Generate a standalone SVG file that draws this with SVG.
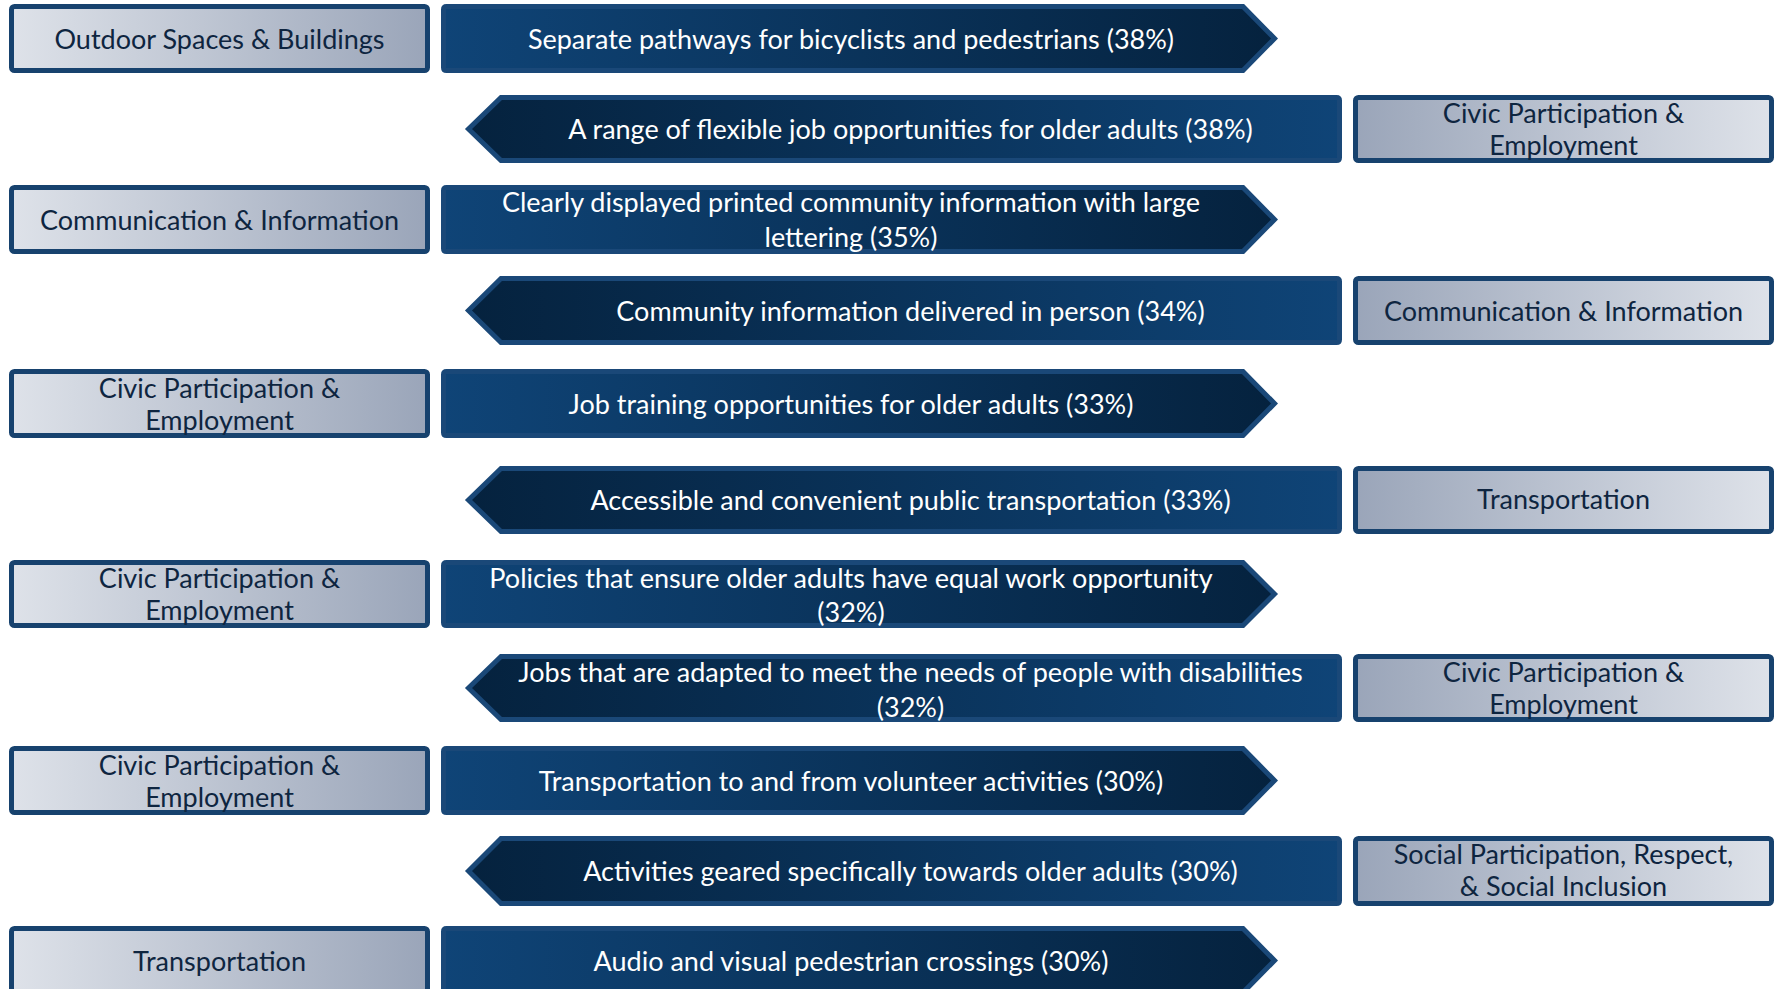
<svg xmlns="http://www.w3.org/2000/svg" width="1779" height="989" viewBox="0 0 1779 989">
<defs>
<linearGradient id="gL" x1="0" y1="0" x2="1" y2="0"><stop offset="0" stop-color="#dee2e9"/><stop offset="1" stop-color="#9aa5b9"/></linearGradient>
<linearGradient id="gR" x1="0" y1="0" x2="1" y2="0"><stop offset="0" stop-color="#9aa5b9"/><stop offset="1" stop-color="#dee2e9"/></linearGradient>
<linearGradient id="aR" x1="0" y1="0" x2="1" y2="0"><stop offset="0" stop-color="#0f4477"/><stop offset="1" stop-color="#05223e"/></linearGradient>
<linearGradient id="aL" x1="0" y1="0" x2="1" y2="0"><stop offset="0" stop-color="#05223e"/><stop offset="1" stop-color="#0f4477"/></linearGradient>
<style>
.boxL{fill:url(#gL);stroke:#17426e;stroke-width:5}
.boxR{fill:url(#gR);stroke:#17426e;stroke-width:5}
.arR{fill:url(#aR);stroke:#1a4878;stroke-width:5;stroke-linejoin:miter}
.arL{fill:url(#aL);stroke:#1a4878;stroke-width:5;stroke-linejoin:miter}
text{font-family:Lato,"Open Sans","Liberation Sans",sans-serif;font-size:27px;text-anchor:middle}
.tw{fill:#ffffff}
.td{fill:#0e2540}
</style>
</defs>
<rect width="1779" height="989" fill="#ffffff"/>
<g id="connectors"></g>

<g id="row1">
<rect class="boxL" x="11.5" y="6.5" width="416" height="64" rx="3"/>
<text class="td" x="219.5" y="48.5">Outdoor Spaces &amp; Buildings</text>
<path class="arR" d="M446.5,6.5 L1243,6.5 L1274.5,38.5 L1243,70.5 L446.5,70.5 Q443.5,70.5 443.5,67.5 L443.5,9.5 Q443.5,6.5 446.5,6.5 Z"/>
<text class="tw" x="851" y="48.5">Separate pathways for bicyclists and pedestrians (38%)</text>
</g>

<g id="row2">
<path class="arL" d="M1336.5,97.5 L501,97.5 L468.5,129 L501,160.5 L1336.5,160.5 Q1339.5,160.5 1339.5,157.5 L1339.5,100.5 Q1339.5,97.5 1336.5,97.5 Z"/>
<text class="tw" x="910.5" y="139">A range of flexible job opportunities for older adults (38%)</text>
<rect class="boxR" x="1355.5" y="97.5" width="416" height="63" rx="3"/>
<text class="td" x="1563.5" y="123">Civic Participation &amp;</text>
<text class="td" x="1563.5" y="155">Employment</text>
</g>

<g id="row3">
<rect class="boxL" x="11.5" y="187.5" width="416" height="64" rx="3"/>
<text class="td" x="219.5" y="229.5">Communication &amp; Information</text>
<path class="arR" d="M446.5,187.5 L1243,187.5 L1274.5,219.5 L1243,251.5 L446.5,251.5 Q443.5,251.5 443.5,248.5 L443.5,190.5 Q443.5,187.5 446.5,187.5 Z"/>
<text class="tw" x="851" y="212">Clearly displayed printed community information with large</text>
<text class="tw" x="851" y="247">lettering (35%)</text>
</g>

<g id="row4">
<path class="arL" d="M1336.5,278.5 L501,278.5 L468.5,310.5 L501,342.5 L1336.5,342.5 Q1339.5,342.5 1339.5,339.5 L1339.5,281.5 Q1339.5,278.5 1336.5,278.5 Z"/>
<text class="tw" x="910.5" y="320.5">Community information delivered in person (34%)</text>
<rect class="boxR" x="1355.5" y="278.5" width="416" height="64" rx="3"/>
<text class="td" x="1563.5" y="320.5">Communication &amp; Information</text>
</g>

<g id="row5">
<rect class="boxL" x="11.5" y="371.5" width="416" height="64" rx="3"/>
<text class="td" x="219.5" y="397.5">Civic Participation &amp;</text>
<text class="td" x="219.5" y="429.5">Employment</text>
<path class="arR" d="M446.5,371.5 L1243,371.5 L1274.5,403.5 L1243,435.5 L446.5,435.5 Q443.5,435.5 443.5,432.5 L443.5,374.5 Q443.5,371.5 446.5,371.5 Z"/>
<text class="tw" x="851" y="413.5">Job training opportunities for older adults (33%)</text>
</g>

<g id="row6">
<path class="arL" d="M1336.5,468.5 L501,468.5 L468.5,500 L501,531.5 L1336.5,531.5 Q1339.5,531.5 1339.5,528.5 L1339.5,471.5 Q1339.5,468.5 1336.5,468.5 Z"/>
<text class="tw" x="910.5" y="510">Accessible and convenient public transportation (33%)</text>
<rect class="boxR" x="1355.5" y="468.5" width="416" height="63" rx="3"/>
<text class="td" x="1563.5" y="509">Transportation</text>
</g>

<g id="row7">
<rect class="boxL" x="11.5" y="562.5" width="416" height="63" rx="3"/>
<text class="td" x="219.5" y="588">Civic Participation &amp;</text>
<text class="td" x="219.5" y="620">Employment</text>
<path class="arR" d="M446.5,562.5 L1243,562.5 L1274.5,594 L1243,625.5 L446.5,625.5 Q443.5,625.5 443.5,622.5 L443.5,565.5 Q443.5,562.5 446.5,562.5 Z"/>
<text class="tw" x="851" y="587.5">Policies that ensure older adults have equal work opportunity</text>
<text class="tw" x="851" y="622">(32%)</text>
</g>

<g id="row8">
<path class="arL" d="M1336.5,656.5 L501,656.5 L468.5,688 L501,719.5 L1336.5,719.5 Q1339.5,719.5 1339.5,716.5 L1339.5,659.5 Q1339.5,656.5 1336.5,656.5 Z"/>
<text class="tw" x="910.5" y="682">Jobs that are adapted to meet the needs of people with disabilities</text>
<text class="tw" x="910.5" y="717">(32%)</text>
<rect class="boxR" x="1355.5" y="656.5" width="416" height="63" rx="3"/>
<text class="td" x="1563.5" y="682">Civic Participation &amp;</text>
<text class="td" x="1563.5" y="714">Employment</text>
</g>

<g id="row9">
<rect class="boxL" x="11.5" y="748.5" width="416" height="64" rx="3"/>
<text class="td" x="219.5" y="774.5">Civic Participation &amp;</text>
<text class="td" x="219.5" y="806.5">Employment</text>
<path class="arR" d="M446.5,748.5 L1243,748.5 L1274.5,780.5 L1243,812.5 L446.5,812.5 Q443.5,812.5 443.5,809.5 L443.5,751.5 Q443.5,748.5 446.5,748.5 Z"/>
<text class="tw" x="851" y="790.5">Transportation to and from volunteer activities (30%)</text>
</g>

<g id="row10">
<path class="arL" d="M1336.5,838.5 L501,838.5 L468.5,871 L501,903.5 L1336.5,903.5 Q1339.5,903.5 1339.5,900.5 L1339.5,841.5 Q1339.5,838.5 1336.5,838.5 Z"/>
<text class="tw" x="910.5" y="881">Activities geared specifically towards older adults (30%)</text>
<rect class="boxR" x="1355.5" y="838.5" width="416" height="65" rx="3"/>
<text class="td" x="1563.5" y="864">Social Participation, Respect,</text>
<text class="td" x="1563.5" y="896">&amp; Social Inclusion</text>
</g>

<g id="row11">
<rect class="boxL" x="11.5" y="928.5" width="416" height="64" rx="3"/>
<text class="td" x="219.5" y="970.5">Transportation</text>
<path class="arR" d="M446.5,928.5 L1243,928.5 L1274.5,960.5 L1243,992.5 L446.5,992.5 Q443.5,992.5 443.5,989.5 L443.5,931.5 Q443.5,928.5 446.5,928.5 Z"/>
<text class="tw" x="851" y="970.5">Audio and visual pedestrian crossings (30%)</text>
</g>
</svg>
